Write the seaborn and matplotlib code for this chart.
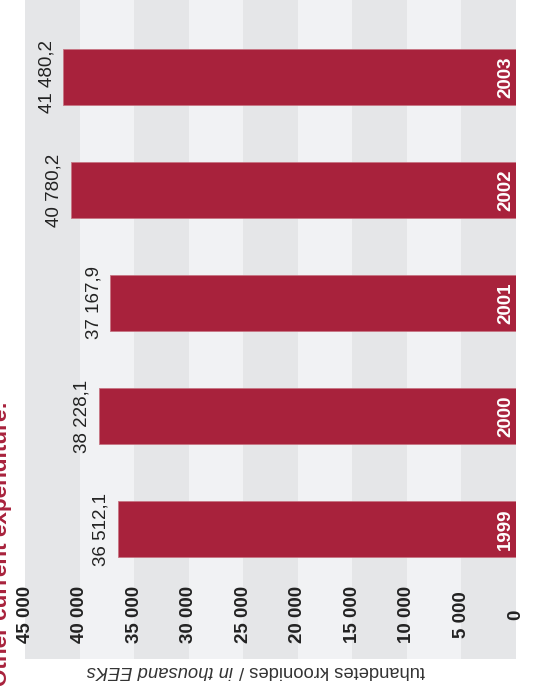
import pandas as pd
import matplotlib
matplotlib.use('Agg')
import matplotlib.pyplot as plt
import seaborn as sns

# data
years = ['2003', '2002', '2001', '2000', '1999']
values = [41480.2, 40780.2, 37167.9, 38228.1, 36512.1]
value_labels = ['41 480,2', '40 780,2', '37 167,9', '38 228,1', '36 512,1']
ticks = [0, 5000, 10000, 15000, 20000, 25000, 30000, 35000, 40000, 45000]
tick_labels = ['0', '5 000', '10 000', '15 000', '20 000', '25 000',
               '30 000', '35 000', '40 000', '45 000']

sns.set_style('white')
plt.rcParams['font.family'] = ['Liberation Sans', 'DejaVu Sans']

red = '#a8223c'
dark = '#e5e6e8'
light = '#f1f2f4'
ink = '#222222'

df = pd.DataFrame({'year': years, 'value': values})

fig = plt.figure(figsize=(5.37, 6.93), dpi=100)
ax = fig.add_axes([25/537, 34/693, 491/537, 659/693])
ax.set_facecolor(light)

# stripes every 5000
for i in range(len(ticks) - 1):
    if i % 2 == 0:
        ax.axvspan(ticks[i], ticks[i+1], color=dark, lw=0, zorder=0)

sns.barplot(data=df, x='value', y='year', order=years, orient='h',
            color=red, saturation=1, width=0.5, ax=ax, zorder=2,
            edgecolor='#c77583', linewidth=0.6)

ax.set_xlim(45000, 0)
ax.set_ylim(5.15, -0.68)
for s in ax.spines.values():
    s.set_visible(False)
ax.set_xticks([])
ax.set_yticks([])
ax.set_xlabel('')
ax.set_ylabel('')

# tick labels inside the plot area
for t, lab in zip(ticks, tick_labels):
    ax.text(t, 4.76, lab, rotation=90, ha='center', va='center',
            fontsize=13.5, fontweight='bold', color=ink, zorder=3)

# value labels and year labels
for i, (v, lab, yr) in enumerate(zip(values, value_labels, years)):
    ax.annotate(lab, (v, i), xytext=(-6, 0), textcoords='offset points',
                rotation=90, ha='right', va='center', fontsize=13.5,
                color=ink, zorder=3)
    ax.annotate(yr, (0, i), xytext=(-1.5, 0), textcoords='offset points',
                rotation=90, ha='right', va='center', fontsize=13.5,
                fontweight='bold', color='white', zorder=3)

# axis label, upside down
fig.text(425/537, 1 - 670/693, 'tuhandetes kroonides /', rotation=180,
         ha='right', va='center', fontsize=13.2, color='#333333')
fig.text(233/537, 1 - 670/693, 'in thousand EEKs', rotation=180,
         ha='right', va='center', fontsize=13.2, style='italic', color='#333333')

# title, cut at the left edge
fig.text(7/537, 1 - 686/693, 'Other current expenditure:', rotation=90,
         rotation_mode='anchor', ha='left', va='baseline',
         fontsize=16.2, fontweight='bold', color=red)

fig.savefig('out.png', dpi=100)
